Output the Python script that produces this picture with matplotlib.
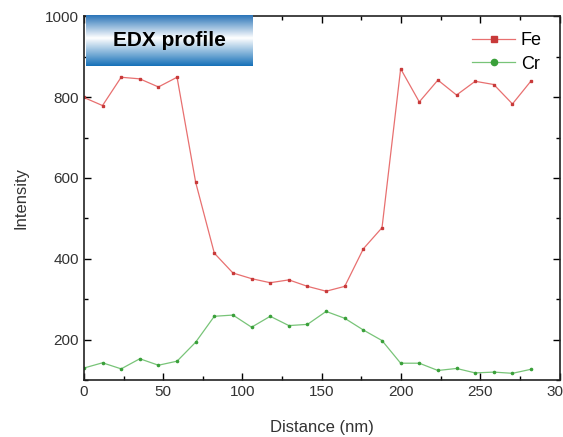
import numpy as np
import matplotlib
matplotlib.use('Agg')
import matplotlib.pyplot as plt
from matplotlib.colors import LinearSegmentedColormap

plt.rcParams['font.family'] = ['Liberation Sans', 'DejaVu Sans']

# distance along the line scan (nm)
distance = [0, 11.75, 23.5, 35.25, 47, 58.75, 70.5, 82.25, 94, 105.75, 117.5, 129.25,
            141, 152.75, 164.5, 176.25, 188, 199.75, 211.5, 223.25, 235, 246.75,
            258.5, 270.25, 282]
fe = [799, 779, 849, 845, 825, 849, 589, 414, 365, 351, 341, 348,
      332, 320, 332, 425, 477, 870, 788, 842, 805, 839, 831, 783, 840]
cr = [130, 143, 128, 153, 137, 147, 194, 258, 261, 231, 258, 235,
      238, 270, 253, 224, 198, 142, 142, 124, 129, 118, 120, 117, 127]

fig = plt.figure(figsize=(5.63, 4.37), dpi=100)
ax = fig.add_axes([0.149, 0.130, 0.845, 0.833])

ax.plot(distance, fe, color='#e87070', lw=0.9, marker='s', ms=1.6, mfc='#c83a3a',
        mec='#c83a3a', label='Fe')
ax.plot(distance, cr, color='#78c478', lw=0.9, marker='o', ms=1.6, mfc='#3aa03a',
        mec='#3aa03a', label='Cr')

ax.set_xlim(0, 300)
ax.set_ylim(100, 1000)
ax.set_xticks([0, 50, 100, 150, 200, 250, 300])
ax.set_xticks(np.arange(25, 300, 50), minor=True)
ax.set_yticks([200, 400, 600, 800, 1000])
ax.set_yticks([100, 300, 500, 700, 900], minor=True)
ax.tick_params(which='both', direction='in', top=True, right=True,
               labelsize=11, labelcolor='#333333', width=1.0)
ax.tick_params(which='major', length=5)
ax.tick_params(which='minor', length=3)
for s in ax.spines.values():
    s.set_linewidth(1.2)
    s.set_color('#222222')

ax.set_xlabel('Distance (nm)', fontsize=12, color='#333333', labelpad=15)
ax.set_ylabel('Intensity', fontsize=12, color='#333333', labelpad=12)

leg = ax.legend(loc='upper right', bbox_to_anchor=(0.985, 0.985), frameon=False,
                fontsize=13, handlelength=2.4, handletextpad=0.3, labelspacing=0.35,
                borderaxespad=0.2, markerscale=2.8)

# EDX profile banner with blue-white-blue gradient
bx = fig.add_axes([86 / 563, 1 - 66 / 437, 167 / 563, 51 / 437])
cmap = LinearSegmentedColormap.from_list(
    'banner', [(0.0, '#2a74b8'), (0.45, '#ffffff'), (1.0, '#1570b8')])
grad = np.linspace(0, 1, 256).reshape(-1, 1)
bx.imshow(grad, aspect='auto', cmap=cmap, extent=[0, 1, 1, 0])
bx.set_axis_off()
bx.text(0.5, 0.5, 'EDX profile', ha='center', va='center', fontsize=15,
        fontweight='bold', color='black', transform=bx.transAxes)

fig.savefig('out.png', dpi=100)
